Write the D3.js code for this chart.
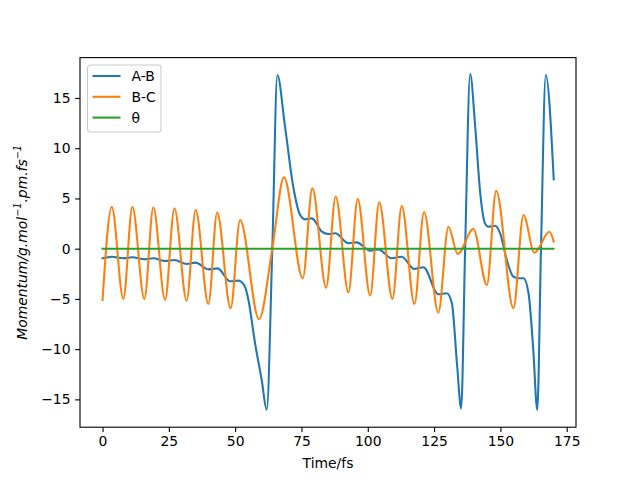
<html lang='en'>
<head>
<meta charset="utf-8">
<title>Momentum</title>
<script src="https://d3js.org/d3.v7.min.js"></script>
<style>
  body { margin: 0; background: #fff; }
  svg { font-family: "DejaVu Sans", sans-serif; }
  .axis path, .axis line { stroke: #000; stroke-width: 1.1px; }
  .axis text { font-size: 13.9px; fill: #000; font-family: "DejaVu Sans", sans-serif; }
  .line { fill: none; stroke-width: 2.08px; stroke-linejoin: round; stroke-linecap: square; }
</style>
</head>
<body>
<script>
// A-B momentum (time fs, value)
var abTime = [0, 3.5, 7.85, 11.2, 15.8, 19.2, 23.6, 27.1, 31.7, 35.1, 39.9, 43.4, 48.1, 51.2, 53.7, 55.0, 57.5, 60.0, 61.9, 64.0, 65.9, 68.8, 71.9, 74.5, 76.4, 78.9, 82.7, 85.1, 87.7, 92.7, 95.8, 100.9, 104.0, 109.0, 112.8, 117.5, 121.0, 126.6, 129.8, 131.7, 133.7, 135.2, 136.7, 138.6, 140.5, 142.4, 144.2, 145.5, 148.0, 149.9, 152.4, 154.9, 156.8, 158.7, 160.6, 162.4, 163.9, 165.3, 167.1, 170.1];
var abValue = [-0.96, -0.8, -0.96, -0.86, -1.06, -0.96, -1.23, -1.13, -1.52, -1.39, -2.06, -1.96, -3.25, -3.18, -3.78, -5.1, -9.41, -13.07, -16.05, 0, 17.28, 12.14, 6.17, 3.35, 2.92, 3.02, 1.69, 1.46, 1.53, 0.54, 0.63, -0.2, -0.07, -0.96, -0.8, -2.02, -1.85, -4.54, -4.44, -5.43, -11.7, -15.9, 0, 17.38, 12.14, 5.51, 2.52, 2.19, 2.29, 1.53, -1.12, -2.79, -2.95, -2.95, -4.44, -10.08, -16.05, 0, 17.28, 6.9];

// B-C momentum
var bcTime = [0, 3.47, 7.85, 11.24, 15.77, 19.16, 23.57, 27.1, 31.7, 35.1, 39.9, 43.2, 48.3, 51.85, 59.0, 64.0, 68.4, 75.5, 79.1, 84.3, 87.9, 92.7, 96.2, 100.9, 104.3, 109.3, 112.8, 117.6, 121.2, 126.6, 130.4, 133.9, 139.8, 144.9, 148.4, 154.9, 158.7, 162.8, 168.5, 170.1];
var bcValue = [-5.1, 4.18, -5.03, 4.18, -5.03, 4.12, -5.1, 4.02, -5.17, 3.85, -5.5, 3.6, -5.93, 2.86, -7.03, 0, 7.1, -2.95, 6.0, -3.88, 5.2, -4.34, 4.95, -4.67, 4.62, -5.0, 4.25, -5.5, 3.65, -6.37, 2.19, -0.53, 1.96, -3.61, 5.77, -5.93, 3.35, -0.4, 1.69, 0.7];

// theta
var thTime = [0, 170];
var thValue = [0, 0];

var xTicks = [0, 25, 50, 75, 100, 125, 150, 175];
var yTicks = [-15, -10, -5, 0, 5, 10, 15];

var seriesNames = ["A-B", "B-C", "θ"];
var colors = ["#1f77b4", "#ff7f0e", "#2ca02c"];

var W = 640, H = 480;
var margin = {top: 57.6, right: 64, bottom: 52.8, left: 80},
    width = W - margin.left - margin.right,
    height = H - margin.top - margin.bottom;

var svg = d3.select("body").append("svg")
    .attr("width", W)
    .attr("height", H);

var g = svg.append("g")
    .attr("transform", "translate(" + margin.left + "," + margin.top + ")");

var x = d3.scaleLinear().domain([-8.5, 178.5]).range([0, width]);
var y = d3.scaleLinear().domain([-17.77, 19.02]).range([height, 0]);

function zip(t, v) {
  return t.map(function(d, i) { return {t: d, v: v[i]}; });
}
var series = [zip(abTime, abValue), zip(bcTime, bcValue), zip(thTime, thValue)];

var line = d3.line()
    .curve(d3.curveMonotoneX)
    .x(function(d) { return x(d.t); })
    .y(function(d) { return y(d.v); });

var fmt = function(d) { return d < 0 ? "\u2212" + Math.abs(d) : "" + d; };

g.append("g")
    .attr("class", "axis")
    .attr("transform", "translate(0," + height + ")")
    .call(d3.axisBottom(x).tickValues(xTicks).tickSize(4.86).tickPadding(4.2).tickFormat(fmt))
    .call(function(s) { s.select(".domain").remove(); });

g.append("g")
    .attr("class", "axis")
    .call(d3.axisLeft(y).tickValues(yTicks).tickSize(4.86).tickPadding(4.6).tickFormat(fmt))
    .call(function(s) { s.select(".domain").remove(); });

g.append("g")
  .selectAll("path")
  .data(series)
  .enter().append("path")
    .attr("class", "line")
    .attr("stroke", function(d, i) { return colors[i]; })
    .attr("d", line);

// frame
g.append("rect")
    .attr("width", width)
    .attr("height", height)
    .attr("fill", "none")
    .attr("stroke", "#000")
    .attr("stroke-width", 1.1);

// axis labels
svg.append("text")
    .attr("x", margin.left + width / 2)
    .attr("y", 468)
    .attr("text-anchor", "middle")
    .attr("font-size", "13.9px")
    .text("Time/fs");

var yl = svg.append("text")
    .attr("transform", "translate(27," + (margin.top + height / 2) + ") rotate(-90)")
    .attr("text-anchor", "middle")
    .attr("font-size", "13.9px")
    .attr("font-style", "italic");
yl.append("tspan").text("Momentum/g.mol");
yl.append("tspan").attr("dy", -6).attr("font-size", "9.7px").text("\u22121");
yl.append("tspan").attr("dy", 6).text(".pm.fs");
yl.append("tspan").attr("dy", -6).attr("font-size", "9.7px").text("\u22121");

// legend
var lg = svg.append("g").attr("transform", "translate(87.5,65)");
lg.append("rect")
    .attr("width", 73.5)
    .attr("height", 67)
    .attr("rx", 2.8)
    .attr("fill", "#fff")
    .attr("fill-opacity", 0.8)
    .attr("stroke", "#cccccc")
    .attr("stroke-width", 1.1);
seriesNames.forEach(function(n, i) {
  var yy = 11 + i * 20.8;
  lg.append("line")
    .attr("x1", 5).attr("x2", 33)
    .attr("y1", yy).attr("y2", yy)
    .attr("stroke", colors[i])
    .attr("stroke-width", 2.08);
  lg.append("text")
    .attr("x", 44)
    .attr("y", yy + 5)
    .attr("font-size", "13.9px")
    .text(n);
});
</script>
</body>
</html>
